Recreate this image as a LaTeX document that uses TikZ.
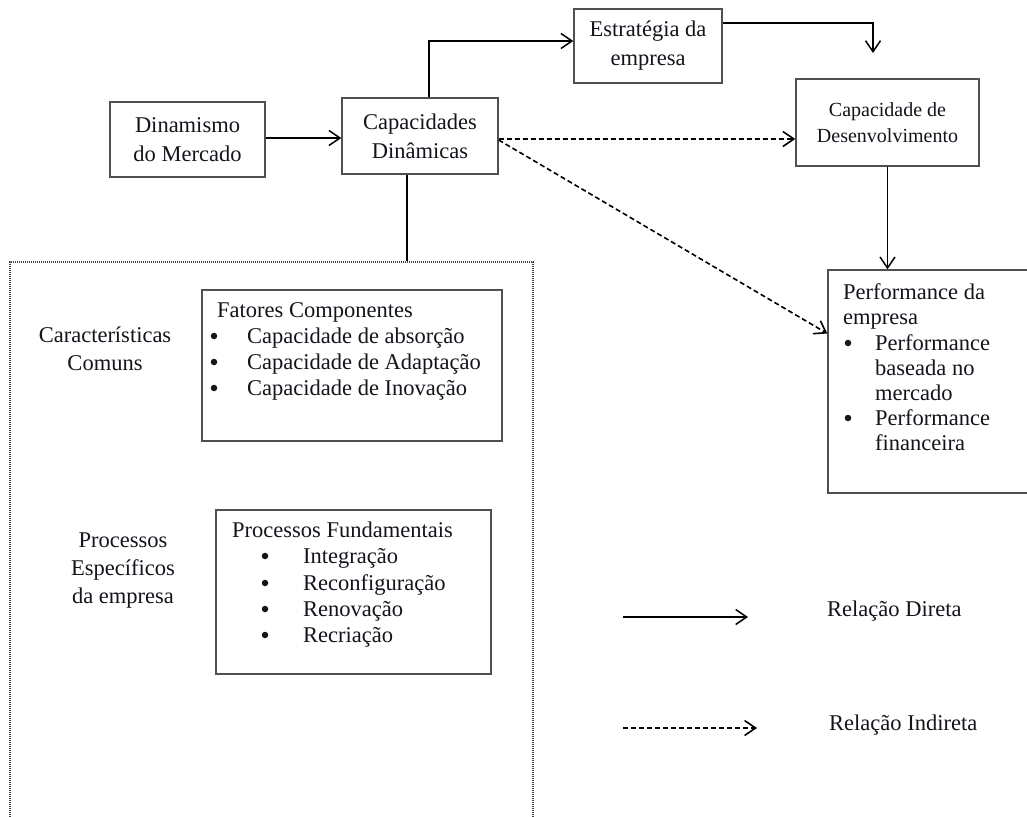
\documentclass[tikz,border=0pt]{standalone}
\usepackage{fontspec}
\setmainfont{Liberation Serif}
\usetikzlibrary{arrows.meta}
\definecolor{boxgray}{RGB}{80,80,80}
\definecolor{txt}{RGB}{20,20,28}
\tikzset{
  box/.style={draw=boxgray, line width=1.4pt, inner sep=0pt, text=txt, align=center, font=\fontsize{22.5}{29}\selectfont},
  lbl/.style={inner sep=0pt, text=txt, font=\fontsize{22.5}{26}\selectfont},
  bul/.style={circle, fill=txt, inner sep=0pt, minimum size=6.5pt},
  direct/.style={line width=1.5pt, -{Straight Barb[length=11pt,width=15pt]}},
  indirect/.style={line width=1.6pt, dash pattern=on 5pt off 3pt, -{Straight Barb[length=11pt,width=15pt]}},
  plain/.style={line width=1.5pt},
  dottedbox/.style={draw=black!75, line width=1.8pt, dash pattern=on 1.2pt off 0.8pt, inner sep=0pt}
}
\begin{document}
\begin{tikzpicture}[x=1pt,y=-1pt]
\useasboundingbox (0,0) rectangle (1027,816);
\clip (0,0) rectangle (1027,816);
\fill[white] (0,0) rectangle (1027,816);

% boxes
\node[box, minimum width=155pt, minimum height=75pt] (din) at (187.5,139.5) {Dinamismo\\do Mercado};
\node[box, minimum width=156pt, minimum height=76pt] (cap) at (420,136) {Capacidades\\Dinâmicas};
\node[box, minimum width=148pt, minimum height=74pt] (est) at (648,46) {Estratégia da\\empresa};
\node[box, minimum width=183pt, minimum height=87pt, font=\fontsize{20}{26}\selectfont] (des) at (887.5,122.5) {Capacidade de\\Desenvolvimento};
\node[box, minimum width=212pt, minimum height=223pt] (perf) at (934,381.5) {};
\node[dottedbox, minimum width=523pt, minimum height=568pt] (big) at (271.5,546) {};
\node[box, minimum width=300pt, minimum height=151pt] (fat) at (352,365.5) {};
\node[box, minimum width=275pt, minimum height=164pt] (proc) at (353.5,592) {};

% Performance text
\node[lbl, anchor=base west] (p1) at (843,299) {Performance da};
\node[lbl, anchor=base west] (p2) at (843,324) {empresa};
\node[bul] (pb1) at (848,343) {};
\node[lbl, anchor=base west] (p3) at (875,350) {Performance};
\node[lbl, anchor=base west] (p4) at (875,375) {baseada no};
\node[lbl, anchor=base west] (p5) at (875,400) {mercado};
\node[bul] (pb2) at (848,418) {};
\node[lbl, anchor=base west] (p6) at (875,425) {Performance};
\node[lbl, anchor=base west] (p7) at (875,450) {financeira};

% Fatores text
\node[lbl, anchor=base west] (f0) at (217,317) {Fatores Componentes};
\node[bul] (fb1) at (214,336) {};
\node[lbl, anchor=base west] (f1) at (247,343) {Capacidade de absorção};
\node[bul] (fb2) at (214,362) {};
\node[lbl, anchor=base west] (f2) at (247,369) {Capacidade de Adaptação};
\node[bul] (fb3) at (214,388) {};
\node[lbl, anchor=base west] (f3) at (247,395) {Capacidade de Inovação};

% Processos text
\node[lbl, anchor=base west] (q0) at (232,537) {Processos Fundamentais};
\node[bul] (qb1) at (265,556) {};
\node[lbl, anchor=base west] (q1) at (303,563) {Integração};
\node[bul] (qb2) at (265,583) {};
\node[lbl, anchor=base west] (q2) at (303,590) {Reconfiguração};
\node[bul] (qb3) at (265,609) {};
\node[lbl, anchor=base west] (q3) at (303,616) {Renovação};
\node[bul] (qb4) at (265,635) {};
\node[lbl, anchor=base west] (q4) at (303,642) {Recriação};

% side labels
\node[lbl, anchor=base] (c1) at (105,342) {Características};
\node[lbl, anchor=base] (c2) at (105,370) {Comuns};
\node[lbl, anchor=base] (e1) at (123,547) {Processos};
\node[lbl, anchor=base] (e2) at (123,575) {Específicos};
\node[lbl, anchor=base] (e3) at (123,603) {da empresa};

% legend
\coordinate (ld1) at (623,617);
\coordinate (ld2) at (748,617);
\coordinate (li1) at (623,728);
\coordinate (li2) at (757,728);
\node[lbl, anchor=base west] (lt1) at (827,616) {Relação Direta};
\node[lbl, anchor=base west] (lt2) at (829,730) {Relação Indireta};
\draw[direct] (ld1) -- (ld2);
\draw[indirect] (li1) -- (li2);

% connectors
\coordinate (dd) at (873,53);
\draw[direct] (din.east |- 0,138) -- (cap.west |- 0,138);
\draw[direct] ([xshift=9pt]cap.north) |- ([yshift=5pt]est.west);
\draw[direct] ([yshift=23pt]est.east) -| (dd);
\draw[indirect] ([yshift=-3pt]cap.east) -- ([yshift=-3pt]cap.east -| des.west);
\draw[indirect] ([yshift=-4pt]cap.east) -- ([yshift=48pt]perf.west);
\draw[direct] (des.south) -- (des.south |- perf.north);
\draw[plain] ([xshift=-13pt]cap.south) -- ([xshift=-13pt]cap.south |- big.north);
\end{tikzpicture}
\end{document}
